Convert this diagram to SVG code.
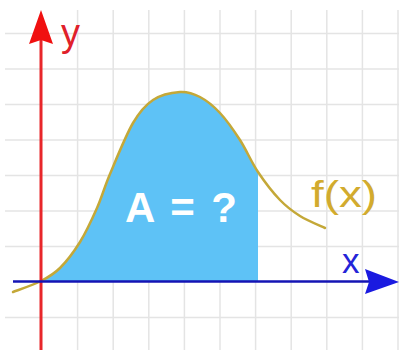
<svg xmlns="http://www.w3.org/2000/svg" width="399" height="350" viewBox="0 0 399 350">
<style>
.grid line{stroke:#e4e4e4;stroke-width:1.5}
.curve{fill:none;stroke:#c4a838;stroke-width:2.5;stroke-linecap:round}
.lbl{font-family:"Liberation Sans",Arial,sans-serif}
</style>
<rect width="399" height="350" fill="#ffffff"/>
<g id="grid" class="grid">
<line x1="77.6" y1="10" x2="77.6" y2="350"/>
<line x1="113.2" y1="10" x2="113.2" y2="350"/>
<line x1="148.8" y1="10" x2="148.8" y2="350"/>
<line x1="184.4" y1="10" x2="184.4" y2="350"/>
<line x1="220" y1="10" x2="220" y2="350"/>
<line x1="255.6" y1="10" x2="255.6" y2="350"/>
<line x1="291.2" y1="10" x2="291.2" y2="350"/>
<line x1="326.8" y1="10" x2="326.8" y2="350"/>
<line x1="362.4" y1="10" x2="362.4" y2="350"/>
<line x1="398" y1="10" x2="398" y2="350"/>
<line x1="5" y1="33.5" x2="399" y2="33.5"/>
<line x1="5" y1="69" x2="399" y2="69"/>
<line x1="5" y1="104.5" x2="399" y2="104.5"/>
<line x1="5" y1="140" x2="399" y2="140"/>
<line x1="5" y1="175.5" x2="399" y2="175.5"/>
<line x1="5" y1="211" x2="399" y2="211"/>
<line x1="5" y1="246.5" x2="399" y2="246.5"/>
<line x1="5" y1="317.5" x2="399" y2="317.5"/>
</g>
<g id="area">
<path d="M41,281 C48.8,277 53.5,274.5 60,268 C66.5,261.5 73.8,252 80,242 C86.2,232 92,219.3 97,208 C102,196.7 104,188.2 110,174 C116,159.8 125.8,135.3 133,123 C140.2,110.7 145.2,105.2 153,100 C160.8,94.8 172.2,92.5 180,92 C187.8,91.5 193.3,93.5 200,97 C206.7,100.5 213.3,105.8 220,113 C226.7,120.2 233.7,130.2 240,140 C246.3,149.8 251.3,162 258,172 L258,281 Z" fill="#5ec2f6"/>
<text class="lbl" x="125" y="222" font-size="42" font-weight="bold" fill="#ffffff" textLength="112" lengthAdjust="spacing">A = ?</text>
</g>
<g id="curve">
<path class="curve" d="M13,292 C17.7,290.2 33.2,285 41,281 C48.8,277 53.5,274.5 60,268 C66.5,261.5 73.8,252 80,242 C86.2,232 92,219.3 97,208 C102,196.7 104,188.2 110,174 C116,159.8 125.8,135.3 133,123 C140.2,110.7 145.2,105.2 153,100 C160.8,94.8 172.2,92.5 180,92 C187.8,91.5 193.3,93.5 200,97 C206.7,100.5 213.3,105.8 220,113 C226.7,120.2 233.7,130.2 240,140 C246.3,149.8 251.3,162 258,172 C264.7,182 273,192.7 280,200 C287,207.3 292.5,211.3 300,216 C307.5,220.7 320.8,226 325,228"/>
<text class="lbl" x="311" y="207" font-size="36" fill="#d2ab2e" textLength="66" lengthAdjust="spacingAndGlyphs">f(x)</text>
</g>
<g id="y-axis">
<line x1="41" y1="40" x2="41" y2="350" stroke="#e8262a" stroke-width="3"/>
<polygon points="41,10 53,44 41,40 29,44" fill="#f01010"/>
<text class="lbl" x="61" y="46" font-size="38" fill="#e0202a">y</text>
</g>
<g id="x-axis">
<line x1="13" y1="281.5" x2="370" y2="281.5" stroke="#1414b4" stroke-width="2.5"/>
<polygon points="399,282 365,294 369,282 365,269" fill="#1a1ae0"/>
<text class="lbl" x="342" y="273" font-size="35" fill="#2424d8">x</text>
</g>
</svg>
